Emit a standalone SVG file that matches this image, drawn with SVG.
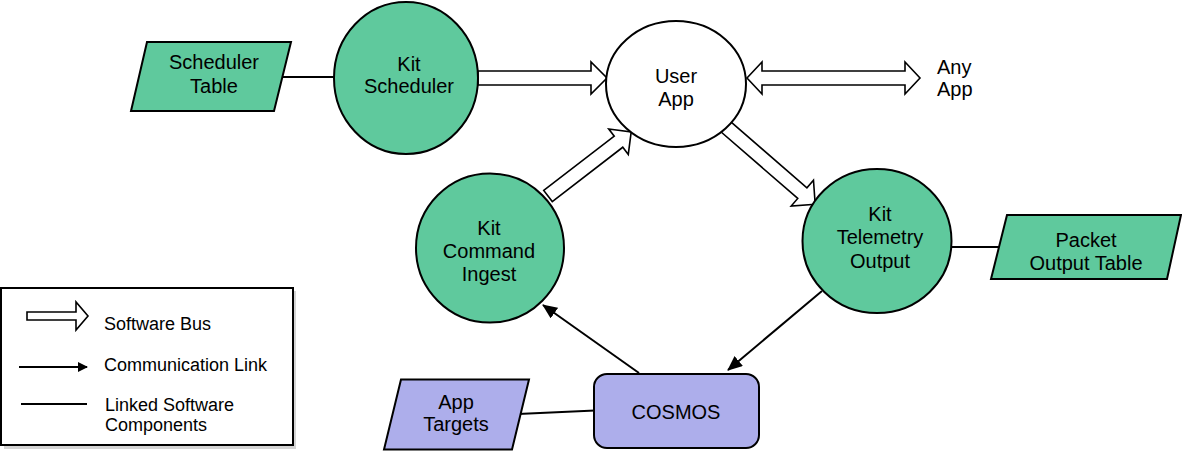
<svg xmlns="http://www.w3.org/2000/svg" width="1182" height="451" viewBox="0 0 1182 451">
<style>
  text { font-family: "Liberation Sans", Arial, sans-serif; font-size: 20px; fill: #000; text-anchor: middle; }
  .leg { font-size: 18px; text-anchor: start; }
  .green { fill: #5fc99d; stroke: #000; stroke-width: 2; }
  .lav { fill: #adaeeb; stroke: #000; stroke-width: 2; }
  .white { fill: #fff; stroke: #000; stroke-width: 2; }
  .bus { fill: #fff; stroke: #000; stroke-width: 1.6; stroke-linejoin: miter; }
  .link { fill: none; stroke: #000; stroke-width: 2; }
</style>
<defs>
  <marker id="ah" markerUnits="userSpaceOnUse" markerWidth="15" markerHeight="13" refX="14" refY="6.5" orient="auto">
    <path d="M0,0 L15,6.5 L0,13 Z" fill="#000"/>
  </marker>
  <marker id="ahs" markerUnits="userSpaceOnUse" markerWidth="10" markerHeight="10" refX="9" refY="5" orient="auto">
    <path d="M0,0 L10,5 L0,10 Z" fill="#000"/>
  </marker>
</defs>
<rect width="1182" height="451" fill="#fff"/>

<g id="connectors">
  <line class="link" x1="282" y1="77" x2="336" y2="77"/>
  <line class="link" x1="946" y1="247" x2="1000" y2="247"/>
  <line class="link" x1="518" y1="414" x2="595" y2="410.5"/>
  <polygon class="bus" points="478,71 591,71 591,62 607,78 591,94 591,85 478,85"/>
  <polygon class="bus" points="747,78 762,62 762,71 905,71 905,62 920,78 905,94 905,85 762,85 762,94"/>
  <polygon class="bus" transform="translate(548,196) rotate(-37.6)" points="0,-7 89,-7 89,-16 105,0 89,16 89,7 0,7"/>
  <polygon class="bus" transform="translate(726,127) rotate(40.9)" points="0,-7 101,-7 101,-17 118,0 101,17 101,7 0,7"/>
  <line class="link" x1="639" y1="373" x2="543" y2="305" marker-end="url(#ah)"/>
  <line class="link" x1="822" y1="291" x2="728" y2="370" marker-end="url(#ah)"/>
</g>

<g id="scheduler-table">
  <polygon class="green" points="147,42 291,42 274,111 131,111"/>
  <text x="214" y="69">Scheduler</text>
  <text x="214" y="92.5">Table</text>
</g>
<g id="kit-scheduler">
  <ellipse class="green" cx="406" cy="78" rx="72" ry="76"/>
  <text x="409" y="70.5">Kit</text>
  <text x="409" y="93">Scheduler</text>
</g>
<g id="user-app">
  <ellipse class="white" cx="676" cy="84" rx="70" ry="63"/>
  <text x="676" y="83">User</text>
  <text x="676" y="105.5">App</text>
</g>
<g id="any-app">
  <text x="937" y="73.5" style="text-anchor:start">Any</text>
  <text x="937" y="96" style="text-anchor:start">App</text>
</g>
<g id="kit-command-ingest">
  <ellipse class="green" cx="490" cy="248" rx="74" ry="74.5"/>
  <text x="489" y="235">Kit</text>
  <text x="489" y="258">Command</text>
  <text x="489" y="281">Ingest</text>
</g>
<g id="kit-telemetry-output">
  <ellipse class="green" cx="877" cy="241" rx="74.5" ry="72"/>
  <text x="880" y="221">Kit</text>
  <text x="880" y="244">Telemetry</text>
  <text x="880" y="267.5">Output</text>
</g>
<g id="packet-output-table">
  <polygon class="green" points="1007,215 1181,215 1167,279 991,279"/>
  <text x="1086" y="247">Packet</text>
  <text x="1086" y="269.5">Output Table</text>
</g>
<g id="cosmos">
  <rect class="lav" x="594" y="374" width="165" height="74" rx="13" ry="13"/>
  <text x="676" y="418.5">COSMOS</text>
</g>
<g id="app-targets">
  <polygon class="lav" points="401,379.5 529,379.5 512,449.5 384,449.5"/>
  <text x="456" y="408.5">App</text>
  <text x="456" y="430.5">Targets</text>
</g>

<g id="legend">
  <rect x="4" y="291" width="292" height="158" fill="#d4d4d4"/>
  <rect x="1" y="288" width="292" height="157" fill="#fff" stroke="#000" stroke-width="2"/>
  <polygon class="bus" points="27,312 76,312 76,302 88,316 76,330 76,320 27,320"/>
  <text class="leg" x="104" y="330">Software Bus</text>
  <line class="link" x1="19" y1="367" x2="87" y2="367" marker-end="url(#ahs)"/>
  <text class="leg" x="104" y="371">Communication Link</text>
  <line class="link" x1="21" y1="404" x2="87" y2="404"/>
  <text class="leg" x="105" y="410.5">Linked Software</text>
  <text class="leg" x="105" y="431">Components</text>
</g>
</svg>
